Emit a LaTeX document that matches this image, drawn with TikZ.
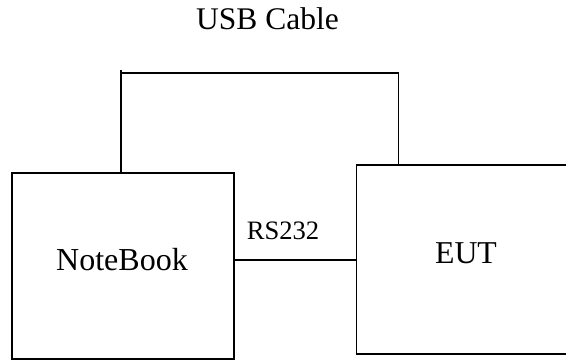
\documentclass[tikz,border=0pt]{standalone}
\usepackage{fontspec}
\setmainfont{Liberation Serif}
\usetikzlibrary{calc}
\begin{document}
\begin{tikzpicture}[x=1pt,y=-1pt,
  boxstyle/.style={draw,line width=1.8pt,inner sep=0pt,anchor=north west},
  wire/.style={line width=1.8pt},
  lbl/.style={inner sep=0pt,anchor=base}]
\useasboundingbox (0,0) rectangle (566,361);
\clip (0,0) rectangle (566,361);
\node[boxstyle,minimum width=221.6pt,minimum height=186pt] (nb) at (11.2,172) {};
\node[boxstyle,minimum width=260pt,minimum height=188.7pt] (eut) at (355.6,164) {};
\node[lbl,font=\fontsize{32}{36}\selectfont] (nbt) at (122,270.7) {NoteBook};
\node[lbl,font=\fontsize{31.8}{36}\selectfont] (eutt) at (466,263.5) {EUT};
\node[lbl,font=\fontsize{26.6}{30}\selectfont] (rs) at (283,239.3) {RS232};
\node[lbl,font=\fontsize{31.5}{36}\selectfont] (usb) at (267.5,30) {USB Cable};
\coordinate (ua) at ($(nb.north west)+(109.8,0)$);
\coordinate (ub) at ($(eut.north west)+(42.9,0)$);
\draw[wire] (ua) -- (ua |- 0,70);
\draw[wire] (ua |- 0,73.3) -| (ub);
\draw[wire] (nb.east |- 0,260) -- (eut.west |- 0,260);
\end{tikzpicture}
\end{document}
